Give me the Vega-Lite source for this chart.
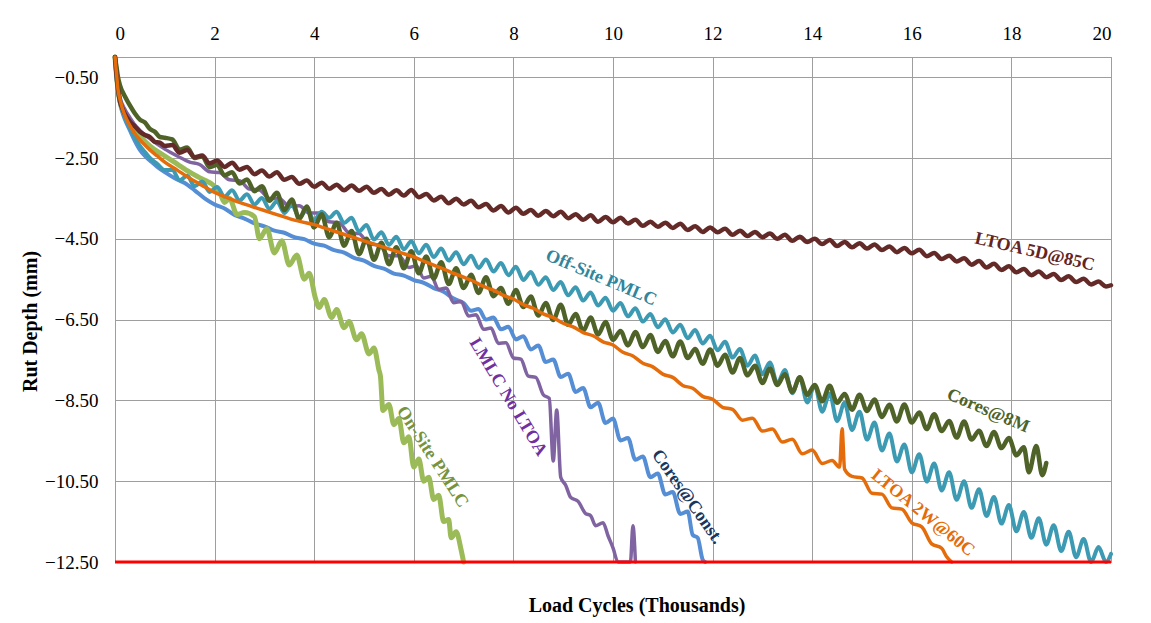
{
  "$schema": "https://vega.github.io/schema/vega-lite/v6.json",
  "width": 996,
  "height": 505,
  "autosize": {"type": "none"},
  "padding": {"left": 115, "top": 57, "right": 40, "bottom": 61},
  "background": "#ffffff",
  "title": {
    "text": "Load Cycles (Thousands)",
    "orient": "bottom",
    "anchor": "middle",
    "offset": 24,
    "dx": 24,
    "font": "Liberation Serif",
    "fontSize": 20,
    "fontWeight": "bold",
    "color": "#000000"
  },
  "config": {
    "view": {"stroke": "#9E9E9E", "strokeWidth": 1},
    "axis": {
      "labelFont": "Liberation Serif",
      "labelFontSize": 19,
      "labelColor": "#000000",
      "titleFont": "Liberation Serif",
      "titleFontSize": 20,
      "titleFontWeight": "bold",
      "titleColor": "#000000",
      "gridColor": "#9E9E9E",
      "gridWidth": 1,
      "gridOpacity": 1,
      "domainColor": "#9E9E9E",
      "domainWidth": 1,
      "ticks": false
    },
    "line": {"interpolate": "monotone", "strokeJoin": "round", "strokeCap": "round"}
  },
  "datasets": {
    "ltoa5d": [
      {"c":0,"d":0},{"c":0.03,"d":-0.45},{"c":0.06,"d":-0.8},{"c":0.1,"d":-1.1},{"c":0.15,"d":-1.28},{"c":0.2,"d":-1.42},{"c":0.3,"d":-1.6},{"c":0.4,"d":-1.72},{"c":0.5,"d":-1.85},{"c":0.6,"d":-1.93},{"c":0.7,"d":-1.98},{"c":0.8,"d":-2.1},{"c":0.9,"d":-2.12},{"c":1.0,"d":-2.2},
      {"c":1.15,"d":-2.18},{"c":1.3,"d":-2.37},{"c":1.45,"d":-2.3},{"c":1.6,"d":-2.48},{"c":1.75,"d":-2.44},{"c":1.9,"d":-2.63},{"c":2.05,"d":-2.56},{"c":2.2,"d":-2.72},{"c":2.35,"d":-2.62},{"c":2.5,"d":-2.79},{"c":2.65,"d":-2.72},{"c":2.8,"d":-2.9},{"c":2.95,"d":-2.81},{"c":3.1,"d":-2.96},{"c":3.25,"d":-2.85},{"c":3.4,"d":-3.04},{"c":3.55,"d":-2.97},{"c":3.7,"d":-3.14},{"c":3.85,"d":-3.06},{"c":4.0,"d":-3.21},
      {"c":4.15,"d":-3.11},{"c":4.3,"d":-3.26},{"c":4.45,"d":-3.16},{"c":4.6,"d":-3.3},{"c":4.75,"d":-3.18},{"c":4.9,"d":-3.31},{"c":5.05,"d":-3.21},{"c":5.2,"d":-3.36},{"c":5.35,"d":-3.27},{"c":5.5,"d":-3.41},{"c":5.65,"d":-3.3},{"c":5.8,"d":-3.43},{"c":5.95,"d":-3.29},{"c":6.1,"d":-3.47},{"c":6.25,"d":-3.39},{"c":6.4,"d":-3.55},{"c":6.55,"d":-3.46},{"c":6.7,"d":-3.62},{"c":6.85,"d":-3.51},{"c":7.0,"d":-3.65},
      {"c":7.15,"d":-3.56},{"c":7.3,"d":-3.72},{"c":7.45,"d":-3.64},{"c":7.6,"d":-3.8},{"c":7.75,"d":-3.69},{"c":7.9,"d":-3.85},{"c":8.05,"d":-3.73},{"c":8.2,"d":-3.88},{"c":8.35,"d":-3.79},{"c":8.5,"d":-3.93},{"c":8.65,"d":-3.81},{"c":8.8,"d":-3.94},{"c":8.95,"d":-3.83},{"c":9.1,"d":-3.99},{"c":9.25,"d":-3.89},{"c":9.4,"d":-4.03},{"c":9.55,"d":-3.92},{"c":9.7,"d":-4.08},{"c":9.85,"d":-3.96},{"c":10.0,"d":-4.09},
      {"c":10.15,"d":-3.98},{"c":10.3,"d":-4.12},{"c":10.45,"d":-4.03},{"c":10.6,"d":-4.18},{"c":10.75,"d":-4.08},{"c":10.9,"d":-4.2},{"c":11.05,"d":-4.1},{"c":11.2,"d":-4.23},{"c":11.35,"d":-4.13},{"c":11.5,"d":-4.28},{"c":11.65,"d":-4.19},{"c":11.8,"d":-4.33},{"c":11.95,"d":-4.22},{"c":12.1,"d":-4.34},{"c":12.25,"d":-4.25},{"c":12.4,"d":-4.4},{"c":12.55,"d":-4.3},{"c":12.7,"d":-4.43},{"c":12.85,"d":-4.33},{"c":13.0,"d":-4.46},
      {"c":13.15,"d":-4.37},{"c":13.3,"d":-4.5},{"c":13.45,"d":-4.4},{"c":13.6,"d":-4.55},{"c":13.75,"d":-4.45},{"c":13.9,"d":-4.58},{"c":14.05,"d":-4.5},{"c":14.2,"d":-4.63},{"c":14.35,"d":-4.53},{"c":14.5,"d":-4.68},{"c":14.65,"d":-4.58},{"c":14.8,"d":-4.71},{"c":14.95,"d":-4.61},{"c":15.1,"d":-4.74},{"c":15.25,"d":-4.64},{"c":15.4,"d":-4.78},{"c":15.55,"d":-4.69},{"c":15.7,"d":-4.83},{"c":15.85,"d":-4.73},{"c":16.0,"d":-4.86},
      {"c":16.15,"d":-4.77},{"c":16.3,"d":-4.93},{"c":16.45,"d":-4.85},{"c":16.6,"d":-5.0},{"c":16.75,"d":-4.92},{"c":16.9,"d":-5.06},{"c":17.05,"d":-4.98},{"c":17.2,"d":-5.14},{"c":17.35,"d":-5.05},{"c":17.5,"d":-5.21},{"c":17.65,"d":-5.12},{"c":17.8,"d":-5.27},{"c":17.95,"d":-5.18},{"c":18.1,"d":-5.33},{"c":18.25,"d":-5.25},{"c":18.4,"d":-5.4},{"c":18.55,"d":-5.31},{"c":18.7,"d":-5.45},{"c":18.85,"d":-5.37},{"c":19.0,"d":-5.52},
      {"c":19.15,"d":-5.43},{"c":19.3,"d":-5.57},{"c":19.45,"d":-5.49},{"c":19.6,"d":-5.63},{"c":19.75,"d":-5.56},{"c":19.9,"d":-5.68},{"c":20.0,"d":-5.65}
    ],
    "offsite": [
      {"c":0,"d":0},{"c":0.03,"d":-0.5},{"c":0.06,"d":-0.85},{"c":0.1,"d":-1.1},{"c":0.2,"d":-1.5},{"c":0.3,"d":-1.75},{"c":0.4,"d":-2.0},{"c":0.5,"d":-2.2},{"c":0.6,"d":-2.35},{"c":0.7,"d":-2.5},{"c":0.85,"d":-2.65},{"c":1.0,"d":-2.8},
      {"c":1.15,"d":-2.8},{"c":1.3,"d":-3.05},{"c":1.45,"d":-2.94},{"c":1.6,"d":-3.2},{"c":1.75,"d":-3.08},{"c":1.9,"d":-3.34},{"c":2.05,"d":-3.22},{"c":2.2,"d":-3.46},{"c":2.35,"d":-3.3},{"c":2.5,"d":-3.55},{"c":2.65,"d":-3.4},{"c":2.8,"d":-3.65},{"c":2.95,"d":-3.49},{"c":3.1,"d":-3.76},{"c":3.25,"d":-3.57},{"c":3.4,"d":-3.86},{"c":3.55,"d":-3.66},{"c":3.7,"d":-3.97},{"c":3.85,"d":-3.78},{"c":4.0,"d":-4.03},
      {"c":4.15,"d":-3.83},{"c":4.3,"d":-3.98},{"c":4.45,"d":-3.83},{"c":4.6,"d":-4.11},{"c":4.75,"d":-3.98},{"c":4.9,"d":-4.32},{"c":5.05,"d":-4.16},{"c":5.2,"d":-4.52},{"c":5.35,"d":-4.34},{"c":5.5,"d":-4.65},{"c":5.65,"d":-4.45},{"c":5.8,"d":-4.76},{"c":5.95,"d":-4.56},{"c":6.1,"d":-4.86},{"c":6.25,"d":-4.65},{"c":6.4,"d":-4.95},{"c":6.55,"d":-4.74},{"c":6.7,"d":-5.04},{"c":6.85,"d":-4.83},{"c":7.0,"d":-5.13},
      {"c":7.15,"d":-4.92},{"c":7.3,"d":-5.22},{"c":7.45,"d":-5.01},{"c":7.6,"d":-5.31},{"c":7.75,"d":-5.1},{"c":7.9,"d":-5.4},{"c":8.05,"d":-5.19},{"c":8.2,"d":-5.52},{"c":8.35,"d":-5.32},{"c":8.5,"d":-5.64},{"c":8.65,"d":-5.45},{"c":8.8,"d":-5.77},{"c":8.95,"d":-5.57},{"c":9.1,"d":-5.9},{"c":9.25,"d":-5.7},{"c":9.4,"d":-6.03},{"c":9.55,"d":-5.83},{"c":9.7,"d":-6.15},{"c":9.85,"d":-5.96},{"c":10.0,"d":-6.28},
      {"c":10.15,"d":-6.09},{"c":10.3,"d":-6.42},{"c":10.45,"d":-6.22},{"c":10.6,"d":-6.55},{"c":10.75,"d":-6.36},{"c":10.9,"d":-6.69},{"c":11.05,"d":-6.49},{"c":11.2,"d":-6.82},{"c":11.35,"d":-6.63},{"c":11.5,"d":-6.96},{"c":11.65,"d":-6.76},{"c":11.8,"d":-7.09},{"c":11.95,"d":-6.9},{"c":12.1,"d":-7.26},{"c":12.25,"d":-7.05},{"c":12.4,"d":-7.44},{"c":12.55,"d":-7.23},{"c":12.7,"d":-7.64},{"c":12.85,"d":-7.39},{"c":13.0,"d":-7.85},
      {"c":13.15,"d":-7.56},{"c":13.3,"d":-8.08},{"c":13.45,"d":-7.75},{"c":13.6,"d":-8.32},{"c":13.75,"d":-7.93},{"c":13.9,"d":-8.55},{"c":14.05,"d":-8.12},{"c":14.2,"d":-8.78},{"c":14.35,"d":-8.33},{"c":14.5,"d":-9.01},{"c":14.65,"d":-8.56},{"c":14.8,"d":-9.23},{"c":14.95,"d":-8.78},{"c":15.1,"d":-9.47},{"c":15.25,"d":-9.05},{"c":15.4,"d":-9.74},{"c":15.55,"d":-9.32},{"c":15.7,"d":-10.01},{"c":15.85,"d":-9.59},{"c":16.0,"d":-10.28},
      {"c":16.15,"d":-9.83},{"c":16.3,"d":-10.51},{"c":16.45,"d":-10.06},{"c":16.6,"d":-10.73},{"c":16.75,"d":-10.28},{"c":16.9,"d":-10.96},{"c":17.05,"d":-10.5},{"c":17.2,"d":-11.16},{"c":17.35,"d":-10.7},{"c":17.5,"d":-11.36},{"c":17.65,"d":-10.89},{"c":17.8,"d":-11.55},{"c":17.95,"d":-11.09},{"c":18.1,"d":-11.74},{"c":18.25,"d":-11.26},{"c":18.4,"d":-11.9},{"c":18.55,"d":-11.42},{"c":18.7,"d":-12.07},{"c":18.85,"d":-11.59},{"c":19.0,"d":-12.23},
      {"c":19.15,"d":-11.75},{"c":19.3,"d":-12.38},{"c":19.45,"d":-11.93},{"c":19.6,"d":-12.5},{"c":19.75,"d":-12.13},{"c":19.9,"d":-12.5},{"c":20.0,"d":-12.3}
    ],
    "cores8m": [
      {"c":0,"d":0},{"c":0.03,"d":-0.25},{"c":0.06,"d":-0.5},{"c":0.1,"d":-0.7},{"c":0.2,"d":-0.98},{"c":0.3,"d":-1.2},{"c":0.4,"d":-1.4},{"c":0.5,"d":-1.55},{"c":0.6,"d":-1.62},{"c":0.7,"d":-1.78},{"c":0.8,"d":-1.85},{"c":0.9,"d":-1.98},{"c":1.0,"d":-2.0},
      {"c":1.15,"d":-2.04},{"c":1.3,"d":-2.29},{"c":1.45,"d":-2.24},{"c":1.6,"d":-2.5},{"c":1.75,"d":-2.46},{"c":1.9,"d":-2.73},{"c":2.05,"d":-2.67},{"c":2.2,"d":-2.93},{"c":2.35,"d":-2.85},{"c":2.5,"d":-3.13},{"c":2.65,"d":-3.03},{"c":2.8,"d":-3.32},{"c":2.95,"d":-3.2},{"c":3.1,"d":-3.56},{"c":3.25,"d":-3.36},{"c":3.4,"d":-3.79},{"c":3.55,"d":-3.53},{"c":3.7,"d":-4.01},{"c":3.85,"d":-3.7},{"c":4.0,"d":-4.22},
      {"c":4.15,"d":-3.89},{"c":4.3,"d":-4.46},{"c":4.45,"d":-4.1},{"c":4.6,"d":-4.67},{"c":4.75,"d":-4.31},{"c":4.9,"d":-4.88},{"c":5.05,"d":-4.5},{"c":5.2,"d":-5.02},{"c":5.35,"d":-4.6},{"c":5.5,"d":-5.13},{"c":5.65,"d":-4.71},{"c":5.8,"d":-5.23},{"c":5.95,"d":-4.81},{"c":6.1,"d":-5.35},{"c":6.25,"d":-4.94},{"c":6.4,"d":-5.48},{"c":6.55,"d":-5.08},{"c":6.7,"d":-5.62},{"c":6.85,"d":-5.23},{"c":7.0,"d":-5.72},
      {"c":7.15,"d":-5.39},{"c":7.3,"d":-5.84},{"c":7.45,"d":-5.45},{"c":7.6,"d":-5.92},{"c":7.75,"d":-5.72},{"c":7.9,"d":-6.11},{"c":8.05,"d":-5.77},{"c":8.2,"d":-6.19},{"c":8.35,"d":-5.93},{"c":8.5,"d":-6.4},{"c":8.65,"d":-6.09},{"c":8.8,"d":-6.51},{"c":8.95,"d":-6.13},{"c":9.1,"d":-6.63},{"c":9.25,"d":-6.36},{"c":9.4,"d":-6.78},{"c":9.55,"d":-6.45},{"c":9.7,"d":-6.87},{"c":9.85,"d":-6.56},{"c":10.0,"d":-7.0},
      {"c":10.15,"d":-6.78},{"c":10.3,"d":-7.14},{"c":10.45,"d":-6.81},{"c":10.6,"d":-7.18},{"c":10.75,"d":-6.88},{"c":10.9,"d":-7.3},{"c":11.05,"d":-7.03},{"c":11.2,"d":-7.41},{"c":11.35,"d":-7.04},{"c":11.5,"d":-7.45},{"c":11.65,"d":-7.23},{"c":11.8,"d":-7.59},{"c":11.95,"d":-7.24},{"c":12.1,"d":-7.64},{"c":12.25,"d":-7.37},{"c":12.4,"d":-7.81},{"c":12.55,"d":-7.45},{"c":12.7,"d":-7.88},{"c":12.85,"d":-7.64},{"c":13.0,"d":-8.07},
      {"c":13.15,"d":-7.71},{"c":13.3,"d":-8.12},{"c":13.45,"d":-7.85},{"c":13.6,"d":-8.29},{"c":13.75,"d":-7.93},{"c":13.9,"d":-8.36},{"c":14.05,"d":-8.12},{"c":14.2,"d":-8.52},{"c":14.35,"d":-8.14},{"c":14.5,"d":-8.56},{"c":14.65,"d":-8.34},{"c":14.8,"d":-8.73},{"c":14.95,"d":-8.36},{"c":15.1,"d":-8.76},{"c":15.25,"d":-8.48},{"c":15.4,"d":-8.91},{"c":15.55,"d":-8.61},{"c":15.7,"d":-9.02},{"c":15.85,"d":-8.6},{"c":16.0,"d":-9.05},
      {"c":16.15,"d":-8.8},{"c":16.3,"d":-9.21},{"c":16.45,"d":-8.84},{"c":16.6,"d":-9.26},{"c":16.75,"d":-9.01},{"c":16.9,"d":-9.42},{"c":17.05,"d":-9.02},{"c":17.2,"d":-9.47},{"c":17.35,"d":-9.25},{"c":17.5,"d":-9.63},{"c":17.65,"d":-9.28},{"c":17.8,"d":-9.68},{"c":17.95,"d":-9.43},{"c":18.1,"d":-9.86},{"c":18.25,"d":-9.66},{"c":18.35,"d":-10.28},{"c":18.5,"d":-9.63},{"c":18.62,"d":-10.35},{"c":18.7,"d":-10.05}
    ],
    "ltoa2w": [
      {"c":0,"d":0},{"c":0.03,"d":-0.4},{"c":0.06,"d":-0.8},{"c":0.1,"d":-1.05},{"c":0.15,"d":-1.28},{"c":0.2,"d":-1.45},{"c":0.3,"d":-1.7},{"c":0.4,"d":-1.9},{"c":0.5,"d":-2.05},{"c":0.6,"d":-2.18},{"c":0.7,"d":-2.3},{"c":0.85,"d":-2.45},{"c":1.0,"d":-2.6},{"c":1.25,"d":-2.8},{"c":1.5,"d":-3.0},{"c":1.75,"d":-3.18},{"c":2.0,"d":-3.35},{"c":2.25,"d":-3.48},{"c":2.5,"d":-3.6},{"c":2.75,"d":-3.7},{"c":3.0,"d":-3.8},{"c":3.25,"d":-3.9},{"c":3.5,"d":-4.0},{"c":3.75,"d":-4.08},{"c":4.0,"d":-4.15},{"c":4.25,"d":-4.25},{"c":4.5,"d":-4.35},{"c":4.75,"d":-4.45},{"c":5.0,"d":-4.55},{"c":5.25,"d":-4.65},{"c":5.5,"d":-4.75},{"c":5.75,"d":-4.85},{"c":6.0,"d":-4.95},{"c":6.25,"d":-5.08},{"c":6.5,"d":-5.2},{"c":6.75,"d":-5.33},{"c":7.0,"d":-5.45},
      {"c":7.2,"d":-5.55},{"c":7.4,"d":-5.68},{"c":7.6,"d":-5.77},{"c":7.8,"d":-5.9},{"c":8.0,"d":-5.99},{"c":8.2,"d":-6.13},{"c":8.4,"d":-6.22},{"c":8.6,"d":-6.36},{"c":8.8,"d":-6.45},{"c":9.0,"d":-6.59},{"c":9.2,"d":-6.68},{"c":9.4,"d":-6.82},{"c":9.6,"d":-6.9},{"c":9.8,"d":-7.05},{"c":10.0,"d":-7.13},
      {"c":10.2,"d":-7.31},{"c":10.4,"d":-7.4},{"c":10.6,"d":-7.58},{"c":10.8,"d":-7.67},{"c":11.0,"d":-7.85},{"c":11.2,"d":-7.93},{"c":11.4,"d":-8.13},{"c":11.6,"d":-8.2},{"c":11.8,"d":-8.4},{"c":12.0,"d":-8.47},{"c":12.2,"d":-8.67},{"c":12.4,"d":-8.72},{"c":12.6,"d":-8.99},{"c":12.8,"d":-8.94},{"c":13.0,"d":-9.26},{"c":13.2,"d":-9.21},{"c":13.4,"d":-9.53},{"c":13.6,"d":-9.46},{"c":13.8,"d":-9.82},{"c":14.0,"d":-9.73},
      {"c":14.2,"d":-10.06},{"c":14.4,"d":-9.99},{"c":14.55,"d":-10.15},{"c":14.6,"d":-9.2},{"c":14.65,"d":-10.2},{"c":14.8,"d":-10.38},{"c":15.0,"d":-10.42},{"c":15.2,"d":-10.8},{"c":15.4,"d":-10.82},{"c":15.6,"d":-11.16},{"c":15.8,"d":-11.19},{"c":16.0,"d":-11.53},{"c":16.2,"d":-11.63},{"c":16.4,"d":-12.05},{"c":16.6,"d":-12.16},{"c":16.7,"d":-12.37},{"c":16.8,"d":-12.5}
    ],
    "coresconst": [
      {"c":0,"d":0},{"c":0.03,"d":-0.5},{"c":0.06,"d":-0.85},{"c":0.1,"d":-1.15},{"c":0.15,"d":-1.38},{"c":0.2,"d":-1.55},{"c":0.3,"d":-1.82},{"c":0.4,"d":-2.08},{"c":0.5,"d":-2.3},{"c":0.6,"d":-2.45},{"c":0.7,"d":-2.56},{"c":0.85,"d":-2.72},{"c":1.0,"d":-2.85},{"c":1.2,"d":-3.0},{"c":1.4,"d":-3.12},{"c":1.6,"d":-3.3},{"c":1.8,"d":-3.5},{"c":2.0,"d":-3.65},
      {"c":2.2,"d":-3.75},{"c":2.4,"d":-3.91},{"c":2.6,"d":-4.0},{"c":2.8,"d":-4.12},{"c":3.0,"d":-4.19},{"c":3.2,"d":-4.3},{"c":3.4,"d":-4.35},{"c":3.6,"d":-4.46},{"c":3.8,"d":-4.51},{"c":4.0,"d":-4.62},{"c":4.2,"d":-4.67},{"c":4.4,"d":-4.78},{"c":4.6,"d":-4.84},{"c":4.8,"d":-4.97},{"c":5.0,"d":-5.04},{"c":5.2,"d":-5.17},{"c":5.4,"d":-5.24},{"c":5.6,"d":-5.36},{"c":5.8,"d":-5.41},{"c":6.0,"d":-5.52},{"c":6.2,"d":-5.59},{"c":6.4,"d":-5.72},{"c":6.6,"d":-5.81},{"c":6.8,"d":-5.98},{"c":7.0,"d":-6.09},
      {"c":7.15,"d":-6.28},{"c":7.3,"d":-6.24},{"c":7.45,"d":-6.5},{"c":7.6,"d":-6.45},{"c":7.75,"d":-6.74},{"c":7.9,"d":-6.68},{"c":8.05,"d":-6.99},{"c":8.2,"d":-6.91},{"c":8.35,"d":-7.24},{"c":8.5,"d":-7.14},{"c":8.65,"d":-7.55},{"c":8.8,"d":-7.49},{"c":8.95,"d":-7.92},{"c":9.1,"d":-7.84},{"c":9.25,"d":-8.29},{"c":9.4,"d":-8.19},{"c":9.55,"d":-8.67},{"c":9.7,"d":-8.56},{"c":9.85,"d":-9.06},{"c":10.0,"d":-8.95},
      {"c":10.15,"d":-9.49},{"c":10.3,"d":-9.43},{"c":10.45,"d":-9.97},{"c":10.6,"d":-9.89},{"c":10.75,"d":-10.4},{"c":10.9,"d":-10.31},{"c":11.05,"d":-10.83},{"c":11.2,"d":-10.77},{"c":11.35,"d":-11.31},{"c":11.5,"d":-11.25},{"c":11.6,"d":-11.83},{"c":11.7,"d":-11.9},{"c":11.8,"d":-12.44},{"c":11.85,"d":-12.5}
    ],
    "lmlc": [
      {"c":0,"d":0},{"c":0.03,"d":-0.4},{"c":0.06,"d":-0.75},{"c":0.1,"d":-1.0},{"c":0.2,"d":-1.3},{"c":0.3,"d":-1.5},{"c":0.4,"d":-1.68},{"c":0.5,"d":-1.82},{"c":0.7,"d":-2.02},{"c":1.0,"d":-2.28},{"c":1.25,"d":-2.45},{"c":1.5,"d":-2.6},
      {"c":1.7,"d":-2.66},{"c":1.9,"d":-2.84},{"c":2.1,"d":-2.86},{"c":2.3,"d":-3.04},{"c":2.5,"d":-3.06},{"c":2.7,"d":-3.27},{"c":2.9,"d":-3.29},{"c":3.1,"d":-3.5},{"c":3.3,"d":-3.5},{"c":3.5,"d":-3.7},{"c":3.7,"d":-3.68},{"c":3.9,"d":-3.86},{"c":4.1,"d":-3.86},{"c":4.3,"d":-4.08},{"c":4.5,"d":-4.1},{"c":4.7,"d":-4.35},{"c":4.9,"d":-4.37},{"c":5.1,"d":-4.63},{"c":5.3,"d":-4.65},{"c":5.5,"d":-4.92},{"c":5.7,"d":-4.92},{"c":5.9,"d":-5.21},
      {"c":6.05,"d":-5.17},{"c":6.2,"d":-5.47},{"c":6.35,"d":-5.43},{"c":6.5,"d":-5.75},{"c":6.65,"d":-5.72},{"c":6.8,"d":-6.08},{"c":6.95,"d":-6.05},{"c":7.1,"d":-6.41},{"c":7.25,"d":-6.38},{"c":7.4,"d":-6.74},{"c":7.55,"d":-6.71},{"c":7.7,"d":-7.09},{"c":7.85,"d":-7.07},{"c":8.0,"d":-7.45},{"c":8.15,"d":-7.48},{"c":8.3,"d":-7.9},{"c":8.45,"d":-7.93},{"c":8.6,"d":-8.36},{"c":8.72,"d":-8.45},
      {"c":8.8,"d":-10.0},{"c":8.87,"d":-8.74},{"c":8.95,"d":-10.4},{"c":9.05,"d":-10.6},{"c":9.15,"d":-10.9},{"c":9.3,"d":-11.0},{"c":9.45,"d":-11.3},{"c":9.55,"d":-11.35},{"c":9.65,"d":-11.6},{"c":9.8,"d":-11.53},{"c":9.9,"d":-11.85},{"c":10.0,"d":-12.15},{"c":10.1,"d":-12.5},{"c":10.35,"d":-12.5},{"c":10.4,"d":-11.6},{"c":10.45,"d":-12.5}
    ],
    "onsite": [
      {"c":0,"d":0},{"c":0.03,"d":-0.45},{"c":0.06,"d":-0.8},{"c":0.1,"d":-1.1},{"c":0.2,"d":-1.4},{"c":0.3,"d":-1.6},{"c":0.4,"d":-1.8},{"c":0.5,"d":-1.95},{"c":0.7,"d":-2.2},{"c":1.0,"d":-2.45},{"c":1.25,"d":-2.65},{"c":1.5,"d":-2.85},{"c":1.75,"d":-3.02},{"c":2.0,"d":-3.2},
      {"c":2.1,"d":-3.35},{"c":2.2,"d":-3.6},{"c":2.3,"d":-3.5},{"c":2.45,"d":-3.9},{"c":2.6,"d":-3.85},{"c":2.8,"d":-3.95},{"c":2.9,"d":-4.5},{"c":3.05,"d":-4.25},{"c":3.2,"d":-4.85},{"c":3.35,"d":-4.55},{"c":3.5,"d":-5.15},{"c":3.65,"d":-4.9},{"c":3.8,"d":-5.5},{"c":3.9,"d":-5.35},{"c":4.02,"d":-5.95},
      {"c":4.1,"d":-6.2},{"c":4.2,"d":-6.0},{"c":4.35,"d":-6.45},{"c":4.45,"d":-6.25},{"c":4.6,"d":-6.7},{"c":4.7,"d":-6.55},{"c":4.85,"d":-7.0},{"c":4.95,"d":-6.85},{"c":5.1,"d":-7.35},{"c":5.2,"d":-7.2},{"c":5.3,"d":-7.75},{"c":5.33,"d":-7.9},{"c":5.38,"d":-8.75},
      {"c":5.5,"d":-8.6},{"c":5.6,"d":-9.1},{"c":5.7,"d":-8.95},{"c":5.8,"d":-9.55},{"c":5.9,"d":-9.4},{"c":6.0,"d":-10.15},{"c":6.1,"d":-9.95},{"c":6.2,"d":-10.5},{"c":6.3,"d":-10.4},{"c":6.4,"d":-10.95},{"c":6.5,"d":-10.85},{"c":6.6,"d":-11.5},{"c":6.7,"d":-11.45},{"c":6.75,"d":-11.9},{"c":6.85,"d":-11.75},{"c":6.95,"d":-12.2},{"c":7.0,"d":-12.5}
    ]
  },
  "encoding": {
    "x": {
      "field": "c",
      "type": "quantitative",
      "scale": {"domain": [0, 20], "nice": false, "zero": false},
      "axis": {
        "orient": "top",
        "values": [0, 2, 4, 6, 8, 10, 12, 14, 16, 18, 20],
        "format": "d",
        "labelFont": "Liberation Serif",
        "labelPadding": 14,
        "title": null
      }
    },
    "y": {
      "field": "d",
      "type": "quantitative",
      "scale": {"domain": [-12.5, 0], "nice": false, "zero": false},
      "axis": {
        "values": [-12.5, -10.5, -8.5, -6.5, -4.5, -2.5, -0.5],
        "format": ".2f",
        "labelFont": "Liberation Serif",
        "labelPadding": 17,
        "title": "Rut Depth (mm)",
        "titleAngle": -90,
        "titleAlign": "center",
        "titleBaseline": "middle",
        "titleX": -85,
        "titleY": 264
      }
    }
  },
  "layer": [
    {"data": {"name": "coresconst"}, "mark": {"type": "line", "color": "#558ED5", "strokeWidth": 4}},
    {"data": {"name": "onsite"}, "mark": {"type": "line", "color": "#9BBB59", "strokeWidth": 5}},
    {"data": {"name": "lmlc"}, "mark": {"type": "line", "color": "#8064A2", "strokeWidth": 3.5}},
    {"data": {"name": "offsite"}, "mark": {"type": "line", "color": "#3D9AB3", "strokeWidth": 4}},
    {"data": {"name": "cores8m"}, "mark": {"type": "line", "color": "#4F6228", "strokeWidth": 4.5}},
    {"data": {"name": "ltoa5d"}, "mark": {"type": "line", "color": "#632A28", "strokeWidth": 4.5}},
    {"data": {"name": "ltoa2w"}, "mark": {"type": "line", "color": "#E46C0A", "strokeWidth": 3.5}},
    {
      "data": {"values": [{"c": 0, "c2": 20, "d": -12.5}]},
      "mark": {"type": "rule", "color": "#FF0000", "strokeWidth": 3},
      "encoding": {"x2": {"field": "c2"}}
    },
    {
      "data": {"values": [{"c": 18.47, "d": -4.83, "label": "LTOA  5D@85C"}]},
      "mark": {"type": "text", "font": "Liberation Serif", "fontSize": 18, "fontWeight": "bold", "color": "#632523", "angle": 13, "align": "center", "baseline": "middle"},
      "encoding": {"text": {"field": "label"}}
    },
    {
      "data": {"values": [{"c": 9.76, "d": -5.47, "label": "Off-Site  PMLC"}]},
      "mark": {"type": "text", "font": "Liberation Serif", "fontSize": 18, "fontWeight": "bold", "color": "#31859C", "angle": 23, "align": "center", "baseline": "middle"},
      "encoding": {"text": {"field": "label"}}
    },
    {
      "data": {"values": [{"c": 17.53, "d": -8.76, "label": "Cores@8M"}]},
      "mark": {"type": "text", "font": "Liberation Serif", "fontSize": 18, "fontWeight": "bold", "color": "#4F6228", "angle": 23, "align": "center", "baseline": "middle"},
      "encoding": {"text": {"field": "label"}}
    },
    {
      "data": {"values": [{"c": 16.22, "d": -11.29, "label": "LTOA  2W@60C"}]},
      "mark": {"type": "text", "font": "Liberation Serif", "fontSize": 18, "fontWeight": "bold", "color": "#E46C0A", "angle": 39, "align": "center", "baseline": "middle"},
      "encoding": {"text": {"field": "label"}}
    },
    {
      "data": {"values": [{"c": 11.49, "d": -10.89, "label": "Cores@Const."}]},
      "mark": {"type": "text", "font": "Liberation Serif", "fontSize": 18, "fontWeight": "bold", "color": "#17375E", "angle": 55, "align": "center", "baseline": "middle"},
      "encoding": {"text": {"field": "label"}}
    },
    {
      "data": {"values": [{"c": 7.89, "d": -8.42, "label": "LMLC No LTOA"}]},
      "mark": {"type": "text", "font": "Liberation Serif", "fontSize": 18, "fontWeight": "bold", "color": "#7030A0", "angle": 59, "align": "center", "baseline": "middle"},
      "encoding": {"text": {"field": "label"}}
    },
    {
      "data": {"values": [{"c": 6.37, "d": -9.9, "label": "On-Site  PMLC"}]},
      "mark": {"type": "text", "font": "Liberation Serif", "fontSize": 18, "fontWeight": "bold", "color": "#77933C", "angle": 57, "align": "center", "baseline": "middle"},
      "encoding": {"text": {"field": "label"}}
    }
  ]
}
